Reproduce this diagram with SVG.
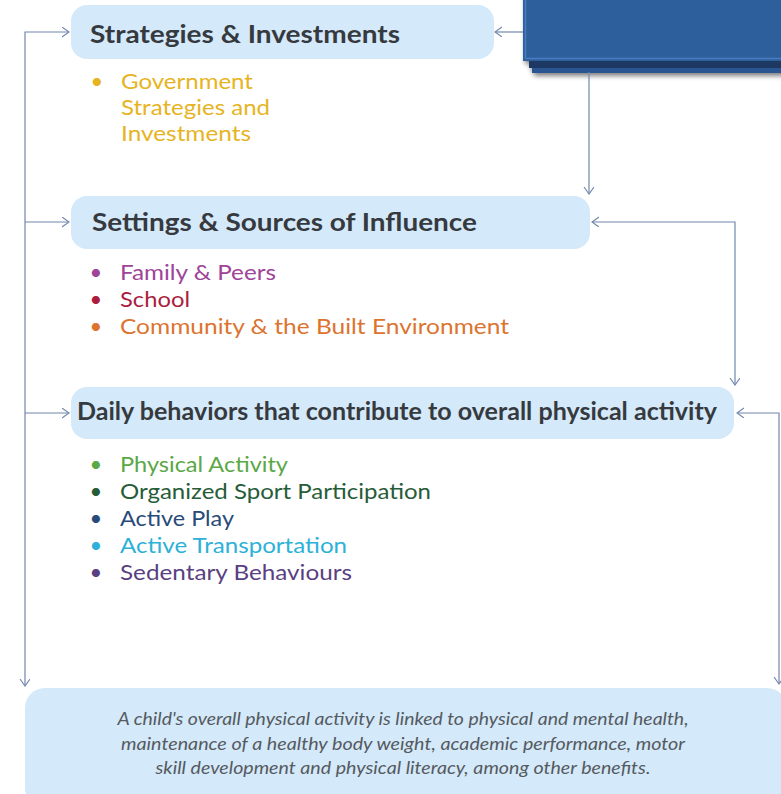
<svg xmlns="http://www.w3.org/2000/svg" width="781" height="794" viewBox="0 0 781 794">
<defs>
<marker id="arr" markerUnits="userSpaceOnUse" markerWidth="12" markerHeight="12" refX="7" refY="5" orient="auto-start-reverse">
<path d="M0,0 L7,5 L0,10" fill="none" stroke="#7088ac" stroke-width="1.1"/>
</marker>
<filter id="sh" x="-10%" y="-20%" width="130%" height="160%">
<feGaussianBlur in="SourceAlpha" stdDeviation="2.5"/>
<feOffset dx="2" dy="3"/>
<feComponentTransfer><feFuncA type="linear" slope="0.5"/></feComponentTransfer>
<feMerge><feMergeNode/><feMergeNode in="SourceGraphic"/></feMerge>
</filter>
<style>
.box{fill:#d4e9f9;}
.title{font-family:Lato,"Open Sans","Liberation Sans",sans-serif;font-weight:bold;fill:#363a3f;}
.item{font-family:Lato,"Open Sans","Liberation Sans",sans-serif;font-size:22px;font-weight:400;}
.foot{font-family:Lato,"Open Sans","Liberation Sans",sans-serif;font-style:italic;font-size:18px;fill:#555a60;}
.con{fill:none;stroke:#7088ac;stroke-width:1.2;}
</style>
</defs>
<rect width="781" height="794" fill="#ffffff"/>

<g id="header-box">
<g filter="url(#sh)">
<rect x="532" y="-5" width="260" height="78" fill="#2b5590"/>
<rect x="529" y="-5" width="260" height="73" fill="#1c3963"/>
<rect x="523" y="-5" width="262" height="66" fill="#2e5f9d"/>
</g>
<rect x="525.5" y="-5" width="262" height="63.5" fill="none" stroke="#4a7cc0" stroke-width="1.5"/>
</g>

<g id="connectors">
<path class="con" d="M69,32 H25 V686" marker-start="url(#arr)" marker-end="url(#arr)"/>
<path class="con" d="M25,222 H69" marker-end="url(#arr)"/>
<path class="con" d="M25,413 H69" marker-end="url(#arr)"/>
<path class="con" d="M523,32 H495" marker-end="url(#arr)"/>
<path class="con" d="M589,72 V194" marker-end="url(#arr)"/>
<path class="con" d="M592,222 H735 V385" marker-start="url(#arr)" marker-end="url(#arr)"/>
<path class="con" d="M737,413 H779 V684" marker-start="url(#arr)" marker-end="url(#arr)"/>
</g>

<g id="strategies">
<rect class="box" x="71" y="5" width="423" height="54" rx="16"/>
<text class="title" x="90" y="43" font-size="25" textLength="310" lengthAdjust="spacingAndGlyphs">Strategies &amp; Investments</text>
<text class="item" x="97" y="89" fill="#e6b422" text-anchor="middle">•</text>
<text class="item" x="121" y="89" fill="#e6b422" textLength="132" lengthAdjust="spacingAndGlyphs">Government</text>
<text class="item" x="121" y="115" fill="#e6b422" textLength="149" lengthAdjust="spacingAndGlyphs">Strategies and</text>
<text class="item" x="121" y="141" fill="#e6b422" textLength="130" lengthAdjust="spacingAndGlyphs">Investments</text>
</g>

<g id="settings">
<rect class="box" x="71" y="196" width="519" height="53" rx="16"/>
<text class="title" x="92" y="231" font-size="25" textLength="385" lengthAdjust="spacingAndGlyphs">Settings &amp; Sources of Influence</text>
<text class="item" x="96" y="280" fill="#9e4499" text-anchor="middle">•</text>
<text class="item" x="120" y="280" fill="#9e4499" textLength="156" lengthAdjust="spacingAndGlyphs">Family &amp; Peers</text>
<text class="item" x="96" y="307" fill="#ab1d3f" text-anchor="middle">•</text>
<text class="item" x="120" y="307" fill="#ab1d3f" textLength="70" lengthAdjust="spacingAndGlyphs">School</text>
<text class="item" x="96" y="334" fill="#dc7430" text-anchor="middle">•</text>
<text class="item" x="120" y="334" fill="#dc7430" textLength="389" lengthAdjust="spacingAndGlyphs">Community &amp; the Built Environment</text>
</g>

<g id="daily">
<rect class="box" x="71" y="387" width="663" height="52" rx="16"/>
<text class="title" x="77" y="420" font-size="24" textLength="640" lengthAdjust="spacingAndGlyphs">Daily behaviors that contribute to overall physical activity</text>
<text class="item" x="96" y="472" fill="#5aa846" text-anchor="middle">•</text>
<text class="item" x="120" y="472" fill="#5aa846" textLength="168" lengthAdjust="spacingAndGlyphs">Physical Activity</text>
<text class="item" x="96" y="499" fill="#275c38" text-anchor="middle">•</text>
<text class="item" x="120" y="499" fill="#275c38" textLength="311" lengthAdjust="spacingAndGlyphs">Organized Sport Participation</text>
<text class="item" x="96" y="526" fill="#284a7a" text-anchor="middle">•</text>
<text class="item" x="120" y="526" fill="#284a7a" textLength="114" lengthAdjust="spacingAndGlyphs">Active Play</text>
<text class="item" x="96" y="553" fill="#2db1d8" text-anchor="middle">•</text>
<text class="item" x="120" y="553" fill="#2db1d8" textLength="227" lengthAdjust="spacingAndGlyphs">Active Transportation</text>
<text class="item" x="96" y="580" fill="#5a3f82" text-anchor="middle">•</text>
<text class="item" x="120" y="580" fill="#5a3f82" textLength="232" lengthAdjust="spacingAndGlyphs">Sedentary Behaviours</text>
</g>

<g id="outcome">
<rect class="box" x="25" y="688" width="762" height="120" rx="20"/>
<text class="foot" x="403" y="725" text-anchor="middle" textLength="571" lengthAdjust="spacingAndGlyphs">A child's overall physical activity is linked to physical and mental health,</text>
<text class="foot" x="403" y="750" text-anchor="middle" textLength="564" lengthAdjust="spacingAndGlyphs">maintenance of a healthy body weight, academic performance, motor</text>
<text class="foot" x="403" y="774" text-anchor="middle" textLength="495" lengthAdjust="spacingAndGlyphs">skill development and physical literacy, among other benefits.</text>
</g>
</svg>
